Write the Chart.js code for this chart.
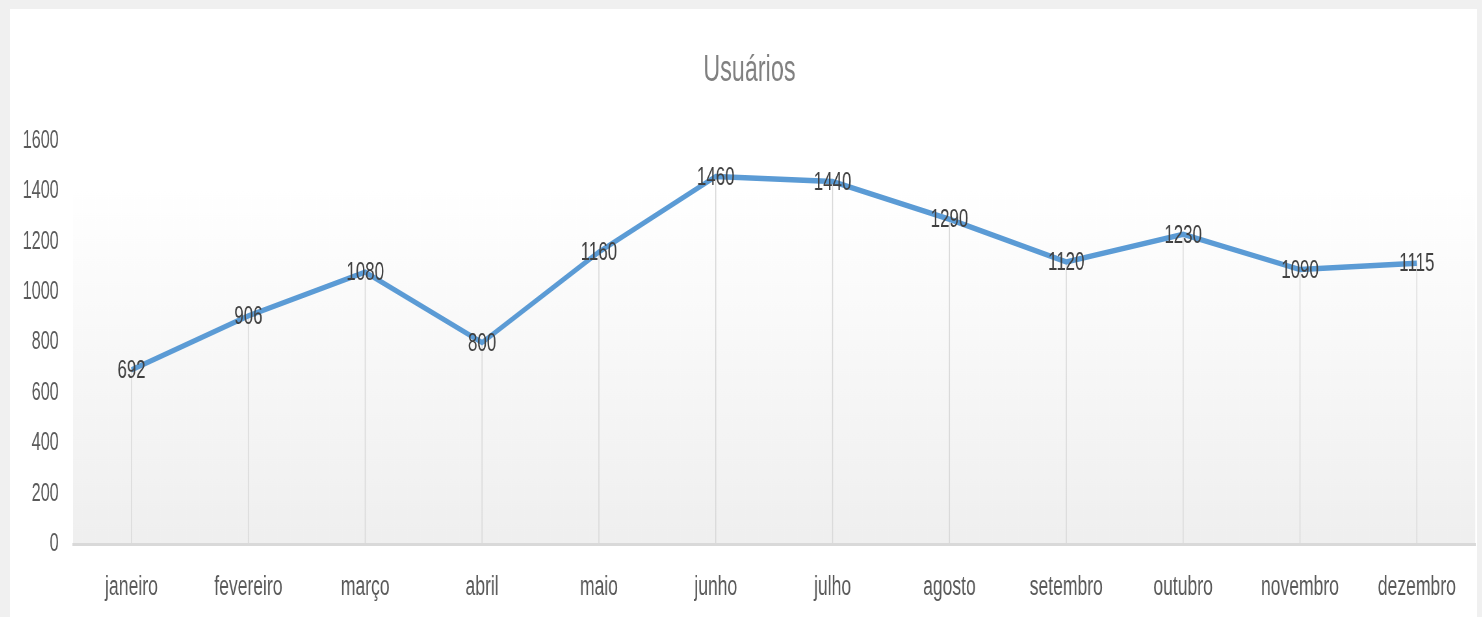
<!DOCTYPE html>
<html>
<head>
<meta charset="utf-8">
<script src="https://cdn.jsdelivr.net/npm/chart.js@4"></script>
<style>
  html, body { margin: 0; padding: 0; background: #f0f0f0; width: 1482px; height: 617px; overflow: hidden; }
  #card { position: absolute; left: 10px; top: 9px; width: 1467px; height: 608px; background: #ffffff; overflow: hidden; }
  #inner { position: absolute; left: 0; top: 0; width: 2257px; height: 608px; transform: scaleX(0.65); transform-origin: 0 0; }
</style>
</head>
<body>
<div id="card"><div id="inner"><canvas id="c"></canvas></div></div>
<script>
const categories = ["janeiro", "fevereiro", "março", "abril", "maio", "junho", "julho", "agosto", "setembro", "outubro", "novembro", "dezembro"];
const usuarios = [692, 906, 1080, 800, 1160, 1460, 1440, 1290, 1120, 1230, 1090, 1115];
const chartTitle = "Usuários";
const yMin = 0, yMax = 1600, yStep = 200;

const FONT = "'Liberation Sans', Arial, sans-serif";

const plotBg = {
  id: 'plotBg',
  beforeDraw(chart) {
    const { ctx, chartArea: a } = chart;
    const g = ctx.createLinearGradient(0, a.top, 0, a.bottom);
    g.addColorStop(0, '#ffffff');
    g.addColorStop(0.12, '#ffffff');
    g.addColorStop(1, '#efefef');
    ctx.save();
    ctx.fillStyle = g;
    ctx.fillRect(a.left, a.top, a.right - a.left, a.bottom - a.top);
    ctx.restore();
  }
};

const dropLines = {
  id: 'dropLines',
  beforeDatasetsDraw(chart) {
    const { ctx, chartArea: a } = chart;
    const meta = chart.getDatasetMeta(0);
    ctx.save();
    ctx.strokeStyle = '#d9d9d9';
    ctx.lineWidth = 1.5;
    meta.data.forEach(p => {
      ctx.beginPath();
      ctx.moveTo(p.x, p.y);
      ctx.lineTo(p.x, a.bottom);
      ctx.stroke();
    });
    ctx.restore();
  }
};

const dataLabels = {
  id: 'dataLabels',
  afterDatasetsDraw(chart) {
    const { ctx } = chart;
    const meta = chart.getDatasetMeta(0);
    const ds = chart.data.datasets[0].data;
    ctx.save();
    ctx.fillStyle = '#404040';
    ctx.font = "26px " + FONT;
    ctx.textAlign = 'center';
    ctx.textBaseline = 'middle';
    meta.data.forEach((p, i) => {
      ctx.fillText(String(ds[i]), p.x, p.y + 1);
    });
    ctx.restore();
  }
};

new Chart(document.getElementById('c'), {
  type: 'line',
  data: {
    labels: categories,
    datasets: [{
      label: chartTitle,
      data: usuarios,
      borderColor: '#5b9bd5',
      borderWidth: 5.5,
      pointRadius: 0,
      pointHoverRadius: 0,
      tension: 0,
      fill: false
    }]
  },
  plugins: [plotBg, dropLines, dataLabels],
  options: {
    responsive: true,
    maintainAspectRatio: false,
    animation: false,
    events: [],
    layout: { padding: { left: 20, right: 2, top: 0, bottom: 0 } },
    plugins: {
      legend: { display: false },
      tooltip: { enabled: false },
      title: {
        display: true,
        text: chartTitle,
        color: '#808080',
        font: { family: FONT, size: 36, weight: 'normal', lineHeight: 1.2 },
        padding: { top: 40, bottom: 49 }
      }
    },
    scales: {
      x: {
        offset: true,
        grid: { display: true, drawOnChartArea: false, drawTicks: false },
        border: { display: true, color: '#d9d9d9', width: 3 },
        afterFit(scale) { scale.height = 73; },
        ticks: {
          color: '#595959',
          padding: 27,
          maxRotation: 0,
          autoSkip: false,
          font: { family: FONT, size: 27, lineHeight: 1.2 }
        }
      },
      y: {
        min: yMin,
        max: yMax,
        grid: { display: false, drawTicks: false },
        border: { display: false },
        afterFit(scale) { scale.width = 77; },
        ticks: {
          stepSize: yStep,
          color: '#595959',
          padding: 22,
          font: { family: FONT, size: 25, lineHeight: 1.2 },
          callback: (v) => String(v)
        }
      }
    }
  }
});
</script>
</body>
</html>
